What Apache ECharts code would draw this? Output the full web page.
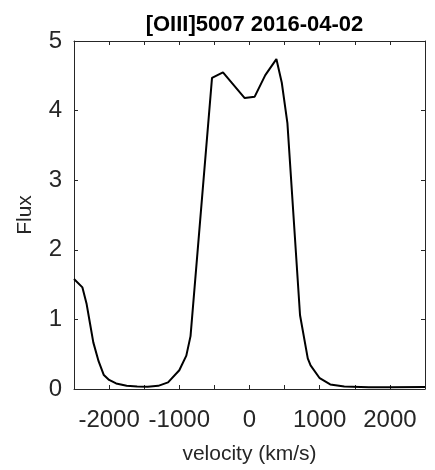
<!DOCTYPE html>
<html>
<head>
<meta charset="utf-8">
<script src="https://cdn.jsdelivr.net/npm/echarts@6/dist/echarts.min.js"></script>
<style>html,body{margin:0;padding:0;background:#fff}#c{width:435px;height:470px}</style>
</head>
<body>
<div id="c"></div>
<script>
var titleText = '[OIII]5007 2016-04-02';
var xName = 'velocity (km/s)';
var yName = 'Flux';
var velocity = [-2500,-2380,-2320,-2270,-2225,-2150,-2075,-2000,-1900,-1750,-1600,-1450,-1300,-1160,-1000,-900,-840,-534,-378,-68,74,225,383,460,540,720,830,870,1000,1150,1350,1700,2000,2500];
var flux =     [1.58,1.46,1.22,0.93,0.67,0.40,0.20,0.13,0.08,0.047,0.035,0.033,0.045,0.095,0.27,0.48,0.76,4.47,4.55,4.18,4.20,4.51,4.74,4.40,3.82,1.06,0.44,0.34,0.155,0.065,0.035,0.025,0.025,0.03];
var xMin = -2500, xMax = 2500, xStep = 500, xLabelStep = 1000;
var yMin = 0, yMax = 5, yStep = 1;

var font = 'Liberation Sans, Arial, Helvetica, sans-serif';
var axisCol = '#262626';
var data = velocity.map(function(v,i){return [v, flux[i]];});

function xAxisCfg(pos, show){
  return {
    type:'value', position:pos, min:xMin, max:xMax, interval:xStep,
    axisLine:{show:true,onZero:false,lineStyle:{color:axisCol,width:1}},
    axisTick:{show:true,inside:true,length:4,lineStyle:{color:axisCol,width:1}},
    splitLine:{show:false},
    axisLabel:{show:show,margin:19,fontSize:24,color:'#262626',fontFamily:font,
      formatter:function(v){return (v % xLabelStep === 0) ? String(v) : '';},
      showMinLabel:true,showMaxLabel:true},
    name: show ? xName : '', nameLocation:'middle', nameGap:55,
    nameTextStyle:{fontSize:21,color:'#262626',fontFamily:font}
  };
}
function yAxisCfg(pos, show){
  return {
    type:'value', position:pos, min:yMin, max:yMax, interval:yStep,
    axisLine:{show:true,onZero:false,lineStyle:{color:axisCol,width:1}},
    axisTick:{show:true,inside:true,length:4,lineStyle:{color:axisCol,width:1}},
    splitLine:{show:false},
    axisLabel:{show:show,margin:12,fontSize:24,color:'#262626',fontFamily:font},
    name: show ? yName : '', nameLocation:'middle', nameGap:38,
    nameTextStyle:{fontSize:21,color:'#262626',fontFamily:font}
  };
}

var chart = echarts.init(document.getElementById('c'), null, {renderer:'canvas'});
chart.setOption({
  animation:false,
  backgroundColor:'#fff',
  title:{text:titleText,left:249.5,textAlign:'center',top:9,
    textStyle:{fontSize:22,fontWeight:'bold',color:'#000',fontFamily:font}},
  grid:{left:74,right:10,top:41,bottom:79,containLabel:false},
  xAxis:[xAxisCfg('bottom',true), xAxisCfg('top',false)],
  yAxis:[yAxisCfg('left',true), yAxisCfg('right',false)],
  series:[{type:'line',xAxisIndex:0,yAxisIndex:0,data:data,showSymbol:false,symbol:'none',
    lineStyle:{color:'#000',width:2},smooth:false}]
});
</script>
</body>
</html>
